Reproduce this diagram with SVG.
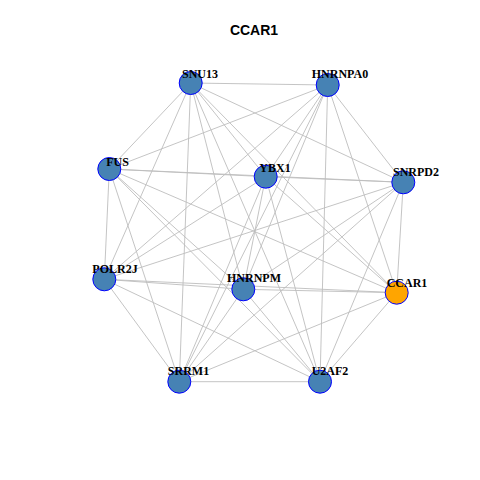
<svg xmlns="http://www.w3.org/2000/svg" width="480" height="480" viewBox="0 0 480 480">
<style>
.e{stroke:#bdbdbd;stroke-width:0.9;fill:none}
.n{fill:#4682b4;stroke:#0000ff;stroke-width:1}
.c{fill:#ffa500;stroke:#0000ff;stroke-width:1}
.l{font-family:"Liberation Serif",serif;font-weight:bold;font-size:12px;text-anchor:middle;fill:#000}
.t{font-family:"Liberation Sans",sans-serif;font-weight:bold;font-size:14px;text-anchor:middle;fill:#000}
</style>
<rect width="480" height="480" fill="#fff"/>
<text class="t" x="254" y="35">CCAR1</text>
<g id="edges" class="e">
<line x1="190.7" y1="83" x2="327.7" y2="85"/>
<line x1="190.7" y1="83" x2="109.3" y2="169"/>
<line x1="190.7" y1="83" x2="265.7" y2="176.7"/>
<line x1="190.7" y1="83" x2="403.3" y2="182.3"/>
<line x1="190.7" y1="83" x2="104.3" y2="279.3"/>
<line x1="190.7" y1="83" x2="243.3" y2="289.3"/>
<line x1="190.7" y1="83" x2="396.7" y2="292.7"/>
<line x1="190.7" y1="83" x2="179.3" y2="381.7"/>
<line x1="190.7" y1="83" x2="320" y2="381.7"/>
<line x1="327.7" y1="85" x2="109.3" y2="169"/>
<line x1="327.7" y1="85" x2="265.7" y2="176.7"/>
<line x1="327.7" y1="85" x2="403.3" y2="182.3"/>
<line x1="327.7" y1="85" x2="104.3" y2="279.3"/>
<line x1="327.7" y1="85" x2="243.3" y2="289.3"/>
<line x1="327.7" y1="85" x2="396.7" y2="292.7"/>
<line x1="327.7" y1="85" x2="179.3" y2="381.7"/>
<line x1="327.7" y1="85" x2="320" y2="381.7"/>
<line x1="109.3" y1="169" x2="265.7" y2="176.7"/>
<line x1="109.3" y1="169" x2="403.3" y2="182.3"/>
<line x1="109.3" y1="169" x2="104.3" y2="279.3"/>
<line x1="109.3" y1="169" x2="243.3" y2="289.3"/>
<line x1="109.3" y1="169" x2="396.7" y2="292.7"/>
<line x1="109.3" y1="169" x2="179.3" y2="381.7"/>
<line x1="109.3" y1="169" x2="320" y2="381.7"/>
<line x1="265.7" y1="176.7" x2="403.3" y2="182.3"/>
<line x1="265.7" y1="176.7" x2="104.3" y2="279.3"/>
<line x1="265.7" y1="176.7" x2="243.3" y2="289.3"/>
<line x1="265.7" y1="176.7" x2="396.7" y2="292.7"/>
<line x1="265.7" y1="176.7" x2="179.3" y2="381.7"/>
<line x1="265.7" y1="176.7" x2="320" y2="381.7"/>
<line x1="403.3" y1="182.3" x2="104.3" y2="279.3"/>
<line x1="403.3" y1="182.3" x2="243.3" y2="289.3"/>
<line x1="403.3" y1="182.3" x2="396.7" y2="292.7"/>
<line x1="403.3" y1="182.3" x2="179.3" y2="381.7"/>
<line x1="403.3" y1="182.3" x2="320" y2="381.7"/>
<line x1="104.3" y1="279.3" x2="243.3" y2="289.3"/>
<line x1="104.3" y1="279.3" x2="396.7" y2="292.7"/>
<line x1="104.3" y1="279.3" x2="179.3" y2="381.7"/>
<line x1="104.3" y1="279.3" x2="320" y2="381.7"/>
<line x1="243.3" y1="289.3" x2="396.7" y2="292.7"/>
<line x1="243.3" y1="289.3" x2="179.3" y2="381.7"/>
<line x1="243.3" y1="289.3" x2="320" y2="381.7"/>
<line x1="396.7" y1="292.7" x2="179.3" y2="381.7"/>
<line x1="396.7" y1="292.7" x2="320" y2="381.7"/>
<line x1="179.3" y1="381.7" x2="320" y2="381.7"/>
</g>
<g id="SNU13"><circle class="n" cx="190.7" cy="83" r="11.5"/><text class="l" x="200" y="78">SNU13</text></g>
<g id="HNRNPA0"><circle class="n" cx="327.7" cy="85" r="11.5"/><text class="l" x="340" y="78">HNRNPA0</text></g>
<g id="FUS"><circle class="n" cx="109.3" cy="169" r="11.5"/><text class="l" x="117.5" y="166">FUS</text></g>
<g id="YBX1"><circle class="n" cx="265.7" cy="176.7" r="11.5"/><text class="l" x="275" y="172">YBX1</text></g>
<g id="SNRPD2"><circle class="n" cx="403.3" cy="182.3" r="11.5"/><text class="l" x="416" y="176">SNRPD2</text></g>
<g id="POLR2J"><circle class="n" cx="104.3" cy="279.3" r="11.5"/><text class="l" x="115" y="273">POLR2J</text></g>
<g id="HNRNPM"><circle class="n" cx="243.3" cy="289.3" r="11.5"/><text class="l" x="254" y="282">HNRNPM</text></g>
<g id="CCAR1"><circle class="c" cx="396.7" cy="292.7" r="11.5"/><text class="l" x="407" y="287">CCAR1</text></g>
<g id="SRRM1"><circle class="n" cx="179.3" cy="381.7" r="11.5"/><text class="l" x="188.5" y="375">SRRM1</text></g>
<g id="U2AF2"><circle class="n" cx="320" cy="381.7" r="11.5"/><text class="l" x="330" y="375">U2AF2</text></g>
</svg>
